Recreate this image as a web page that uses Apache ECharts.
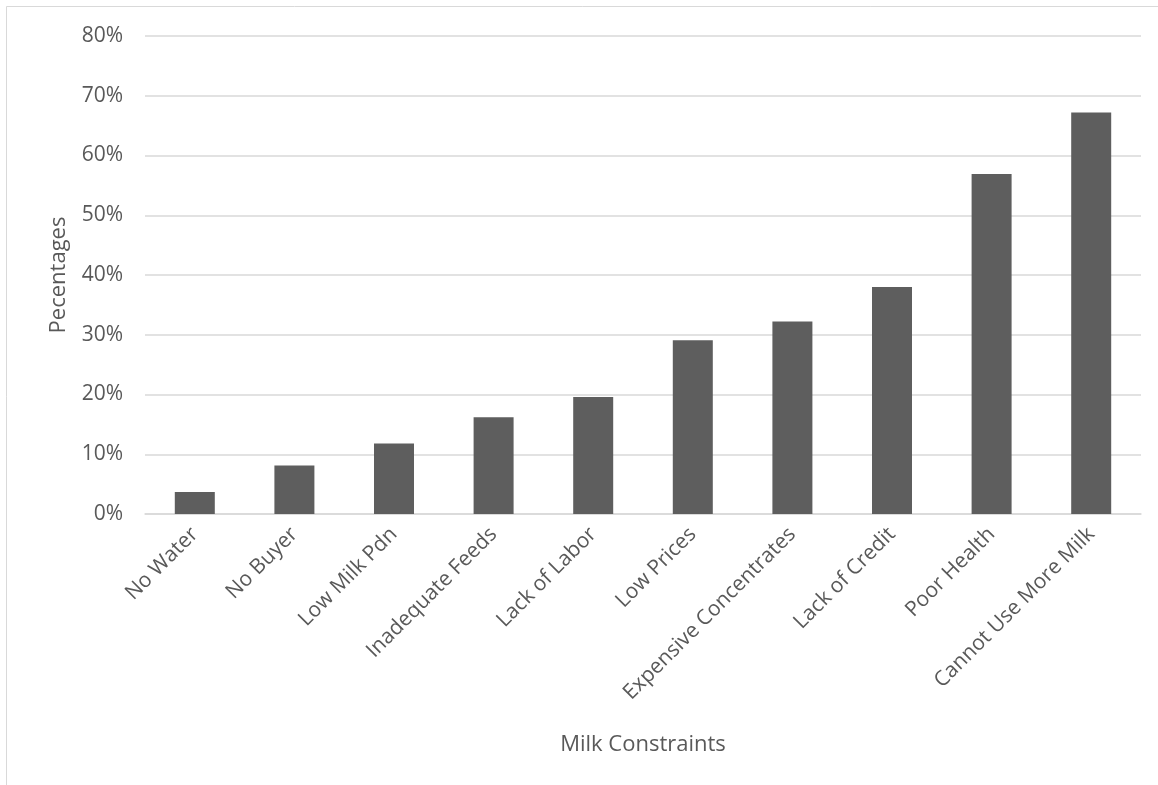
<!DOCTYPE html>
<html>
<head>
<meta charset="utf-8">
<script src="https://cdn.jsdelivr.net/npm/echarts@6/dist/echarts.min.js"></script>
<style>
  html, body { margin: 0; padding: 0; background: #fff; }
  #chart { width: 1158px; height: 785px; }
</style>
</head>
<body>
<div id="chart"></div>
<script>
// Share of respondents citing each milk production constraint
const categories = [
  'No Water', 'No Buyer', 'Low Milk Pdn', 'Inadequate Feeds', 'Lack of Labor',
  'Low Prices', 'Expensive Concentrates', 'Lack of Credit', 'Poor Health', 'Cannot Use More Milk'
];
const percentages = [3.7, 8.1, 11.8, 16.2, 19.6, 29.1, 32.2, 38.0, 56.9, 67.2];
const yTicks = { min: 0, max: 80, interval: 10 };

const FONT = '"Open Sans", Lato, sans-serif';
const TEXT = '#595959';

const chart = echarts.init(document.getElementById('chart'));
chart.setOption({
  animation: false,
  backgroundColor: '#fff',
  graphic: [{
    type: 'rect',
    shape: { x: 6.5, y: 6.5, width: 1160, height: 790 },
    style: { fill: 'none', stroke: '#d9d9d9', lineWidth: 1 },
    silent: true
  }],
  grid: { left: 145, right: 17, top: 36, bottom: 271, containLabel: false },
  xAxis: {
    type: 'category',
    data: categories,
    name: 'Milk Constraints',
    nameLocation: 'middle',
    nameGap: 220,
    nameTextStyle: { color: TEXT, fontFamily: FONT, fontSize: 22 },
    axisLine: { lineStyle: { color: '#d9d9d9', width: 1.5 } },
    axisTick: { show: false },
    axisLabel: {
      rotate: 45, interval: 0, margin: 17,
      color: TEXT, fontFamily: FONT, fontSize: 21
    }
  },
  yAxis: {
    type: 'value',
    min: yTicks.min, max: yTicks.max, interval: yTicks.interval,
    name: 'Pecentages',
    nameLocation: 'middle',
    nameGap: 75,
    nameTextStyle: { color: TEXT, fontFamily: FONT, fontSize: 22 },
    axisLine: { show: false },
    axisTick: { show: false },
    splitLine: { lineStyle: { color: '#d9d9d9', width: 1.5 } },
    axisLabel: {
      color: TEXT, fontFamily: FONT, fontSize: 21, margin: 22,
      formatter: v => v + '%'
    }
  },
  series: [{
    type: 'bar',
    data: percentages,
    barWidth: 40,
    itemStyle: { color: '#5e5e5e' },
    silent: true
  }]
});
</script>
</body>
</html>
